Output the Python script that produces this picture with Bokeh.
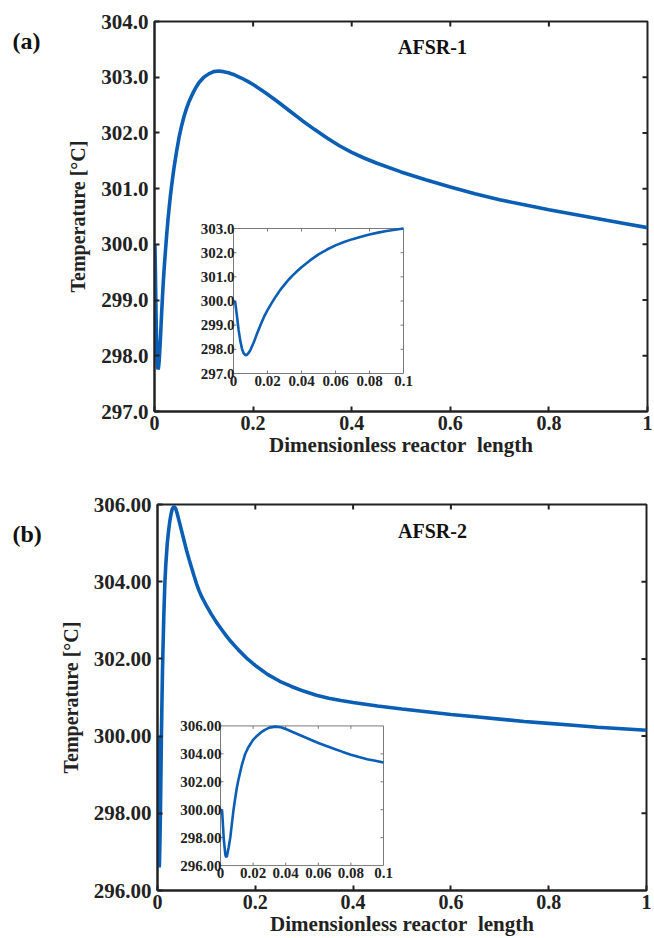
from bokeh.plotting import figure
from bokeh.models import Range1d, FixedTicker, Label
from bokeh.layouts import column, row
from bokeh.embed import file_html
from bokeh.resources import INLINE
from bokeh.core.properties import value

# ---------------- data ----------------
x_ticks = [0, 0.2, 0.4, 0.6, 0.8, 1.0]
x_tick_labels = ["0", "0.2", "0.4", "0.6", "0.8", "1"]
inset_x_ticks = [0, 0.02, 0.04, 0.06, 0.08, 0.1]
inset_x_tick_labels = ["0", "0.02", "0.04", "0.06", "0.08", "0.1"]

# panel (a) AFSR-1
xa = [0, 0.001, 0.002, 0.003, 0.004, 0.005, 0.006, 0.007, 0.008, 0.009, 0.010,
      0.012, 0.014, 0.016, 0.018, 0.020, 0.0225, 0.025, 0.0275, 0.030, 0.0325,
      0.035, 0.0375, 0.040, 0.045, 0.050, 0.055, 0.060, 0.065, 0.070, 0.075,
      0.080, 0.085, 0.090, 0.095, 0.100, 0.110, 0.120, 0.130, 0.140, 0.150,
      0.160, 0.175, 0.190, 0.200, 0.225, 0.250, 0.275, 0.300, 0.325, 0.350,
      0.375, 0.400, 0.425, 0.450, 0.500, 0.550, 0.600, 0.650, 0.700, 0.750,
      0.800, 0.850, 0.900, 0.950, 1.000]
ta = [300.0, 299.95, 299.4, 298.8, 298.35, 298.02, 297.83, 297.76, 297.78, 297.86, 297.98,
      298.3, 298.68, 299.03, 299.35, 299.62, 299.92, 300.2, 300.46, 300.68, 300.89,
      301.07, 301.24, 301.4, 301.68, 301.93, 302.13, 302.3, 302.44, 302.56, 302.66,
      302.75, 302.83, 302.9, 302.95, 303.0, 303.06, 303.1, 303.11, 303.1, 303.08,
      303.05, 302.99, 302.92, 302.87, 302.72, 302.56, 302.39, 302.22, 302.06, 301.91,
      301.77, 301.65, 301.55, 301.46, 301.3, 301.16, 301.03, 300.91, 300.8, 300.71,
      300.62, 300.54, 300.46, 300.38, 300.3]
a_y_ticks = [297, 298, 299, 300, 301, 302, 303, 304]
a_y_labels = ["297.0", "298.0", "299.0", "300.0", "301.0", "302.0", "303.0", "304.0"]
a_inset_y_ticks = [297, 298, 299, 300, 301, 302, 303]
a_inset_y_labels = ["297.0", "298.0", "299.0", "300.0", "301.0", "302.0", "303.0"]

# panel (b) AFSR-2
xb = [0, 0.001, 0.002, 0.003, 0.0035, 0.004, 0.005, 0.006, 0.007, 0.008, 0.009,
      0.010, 0.011, 0.012, 0.013, 0.015, 0.017, 0.020, 0.0225, 0.025, 0.0275,
      0.030, 0.0335, 0.037, 0.040, 0.045, 0.050, 0.060, 0.065, 0.070, 0.075,
      0.080, 0.085, 0.090, 0.095, 0.100, 0.110, 0.120, 0.130, 0.140, 0.150,
      0.165, 0.184, 0.200, 0.225, 0.250, 0.275, 0.300, 0.325, 0.350, 0.375,
      0.400, 0.450, 0.500, 0.550, 0.600, 0.650, 0.700, 0.750, 0.800, 0.850,
      0.900, 0.950, 1.000]
tb = [300.0, 299.9, 297.9, 296.75, 296.6, 296.7, 297.3, 298.0, 299.0, 300.0, 300.8,
      301.55, 302.15, 302.65, 303.15, 303.95, 304.45, 305.0, 305.3, 305.55, 305.74,
      305.88, 305.95, 305.9, 305.78, 305.53, 305.28, 304.78, 304.56, 304.35, 304.14,
      303.94, 303.77, 303.62, 303.5, 303.38, 303.16, 302.96, 302.78, 302.61, 302.45,
      302.24, 302.0, 301.83, 301.6, 301.42, 301.28, 301.16, 301.06, 300.98, 300.92,
      300.87, 300.78, 300.7, 300.63, 300.56, 300.5, 300.44, 300.38, 300.33, 300.28,
      300.23, 300.19, 300.15]
b_y_ticks = [296, 298, 300, 302, 304, 306]
b_y_labels = ["296.00", "298.00", "300.00", "302.00", "304.00", "306.00"]
b_inset_y_ticks = [296, 298, 300, 302, 304, 306]
b_inset_y_labels = ["296.00", "298.00", "300.00", "302.00", "304.00", "306.00"]

FONT = "Liberation Serif"
BLUE = "#0a5eb4"
AX = "#222222"
TAG_W = 45
W_TOTAL = 654


def tag_figure(tag, H, pos):
    f = figure(width=TAG_W, height=H, x_range=Range1d(0, TAG_W), y_range=Range1d(H, 0),
               output_backend="svg", toolbar_location=None,
               x_axis_location=None, y_axis_location=None,
               min_border=0, min_border_left=0, min_border_right=0,
               min_border_top=0, min_border_bottom=0)
    f.grid.visible = False
    f.outline_line_color = None
    f.background_fill_color = "white"
    f.border_fill_color = "white"
    f.add_layout(Label(x=pos[0], y=pos[1], text=tag, text_font=FONT, text_font_style="bold",
                       text_font_size="24px", text_color="#111111",
                       text_align="left", text_baseline="middle"))
    return f


def panel(x, t, y_ticks, y_labels, in_y_ticks, in_y_labels, name, g):
    W, H = W_TOTAL - TAG_W, g["H"]
    L, R, T, B = g["frame"]          # absolute page pixels of the frame edges
    L -= TAG_W
    R -= TAG_W
    ylo, yhi = y_ticks[0], y_ticks[-1]
    p = figure(width=W, height=H, x_range=Range1d(0, 1), y_range=Range1d(ylo, yhi),
               output_backend="svg", toolbar_location=None,
               min_border_left=L, min_border_right=W - R,
               min_border_top=T, min_border_bottom=H - B)
    p.grid.visible = False
    p.outline_line_color = AX
    p.outline_line_width = 2
    p.background_fill_color = "white"
    p.border_fill_color = "white"

    for ax in (p.xaxis[0], p.yaxis[0]):
        ax.major_tick_in = 5
        ax.major_tick_out = 0
        ax.minor_tick_line_color = None
        ax.axis_line_width = 2
        ax.axis_line_color = AX
        ax.major_tick_line_width = 2
        ax.major_tick_line_color = AX
        ax.major_label_text_font = FONT
        ax.major_label_text_font_style = "bold"
        ax.major_label_text_color = "#222222"
        ax.axis_label_text_font = FONT
        ax.axis_label_text_font_style = "bold"
        ax.axis_label_text_color = "#222222"
    xa_ = p.xaxis[0]
    xa_.ticker = FixedTicker(ticks=x_ticks)
    xa_.major_label_overrides = {tk: lb for tk, lb in zip(x_ticks, x_tick_labels)}
    xa_.major_label_text_font_size = "20px"
    xa_.major_label_standoff = 4
    xa_.axis_label = "Dimensionless reactor\u2002length"
    xa_.axis_label_text_font_size = "21px"
    xa_.axis_label_standoff = 0
    ya_ = p.yaxis[0]
    ya_.ticker = FixedTicker(ticks=y_ticks)
    ya_.major_label_overrides = {tk: lb for tk, lb in zip(y_ticks, y_labels)}
    ya_.major_label_text_font_size = "21px"
    ya_.major_label_standoff = 6
    ya_.axis_label = "Temperature [°C]"
    ya_.axis_label_text_font_size = "20px"
    ya_.axis_label_standoff = 9

    # ticks on the top and right edges of the frame
    px_x = 1.0 / (R - L)
    px_y = (yhi - ylo) / (B - T)
    top_x = x_ticks[1:-1]
    right_y = y_ticks[1:-1]
    p.segment(x0=top_x, y0=[yhi] * len(top_x), x1=top_x, y1=[yhi - 5 * px_y] * len(top_x),
              line_color=AX, line_width=2)
    p.segment(x0=[1.0] * len(right_y), y0=right_y, x1=[1.0 - 5 * px_x] * len(right_y), y1=right_y,
              line_color=AX, line_width=2)

    # main curve
    p.line(x, t, line_color=BLUE, line_width=3.6)

    # inset mapped into the frame through extra ranges
    ix0, ix1, iy0, iy1 = g["inset"]
    ix0 -= TAG_W
    ix1 -= TAG_W
    ilo, ihi = in_y_ticks[0], in_y_ticks[-1]
    xlo, xhi = inset_x_ticks[0], inset_x_ticks[-1]
    sx = (xhi - xlo) / (ix1 - ix0)
    sy = (ihi - ilo) / (iy1 - iy0)
    p.extra_x_ranges = {"ix": Range1d(xlo - (ix0 - L) * sx, xhi + (R - ix1) * sx)}
    p.extra_y_ranges = {"iy": Range1d(ilo - (B - iy1) * sy, ihi + (iy0 - T) * sy)}
    kw = dict(x_range_name="ix", y_range_name="iy")
    p.quad(left=[xlo], right=[xhi], bottom=[ilo], top=[ihi], fill_color="white",
           line_color="#7a7a7a", line_width=1, **kw)
    tl = 3
    inner_x = inset_x_ticks[1:-1]
    inner_y = in_y_ticks[1:-1]
    x0s = inner_x + inner_x + [xlo] * len(inner_y) + [xhi] * len(inner_y)
    x1s = inner_x + inner_x + [xlo + tl * sx] * len(inner_y) + [xhi - tl * sx] * len(inner_y)
    y0s = [ilo] * len(inner_x) + [ihi] * len(inner_x) + inner_y + inner_y
    y1s = [ilo + tl * sy] * len(inner_x) + [ihi - tl * sy] * len(inner_x) + inner_y + inner_y
    p.segment(x0=x0s, y0=y0s, x1=x1s, y1=y1s, line_color="#7a7a7a", line_width=1, **kw)
    sel = [i for i, v in enumerate(x) if v <= xhi + 1e-12]
    p.line([x[i] for i in sel], [t[i] for i in sel], line_color=BLUE, line_width=2.6, **kw)
    p.text(x=[xlo] * len(in_y_ticks), y=in_y_ticks, text=in_y_labels, x_offset=1,
           text_align="right", text_baseline="middle", text_font=value(FONT),
           text_font_style="bold", text_font_size="15px", text_color="#222222", **kw)
    p.text(x=inset_x_ticks, y=[ilo] * len(inset_x_ticks), text=inset_x_tick_labels, y_offset=2,
           text_align="center", text_baseline="top", text_font=value(FONT),
           text_font_style="bold", text_font_size="15px", text_color="#222222", **kw)

    # series name inside the frame
    nx = (g["name"][0] - TAG_W - L) / (R - L)
    ny = yhi - (g["name"][1] - T) / (B - T) * (yhi - ylo)
    p.add_layout(Label(x=nx, y=ny, text=name, text_font=FONT,
                       text_font_style="bold", text_font_size="20px", text_color="#111111",
                       text_align="center", text_baseline="middle"))
    return p


ga = dict(H=470, frame=(154, 647, 21, 411), inset=(233, 403, 228, 373), name=(432, 46))
gb = dict(H=468, frame=(157, 646, 34, 421), inset=(220, 383, 256, 396), name=(432, 61))

pa = panel(xa, ta, a_y_ticks, a_y_labels, a_inset_y_ticks, a_inset_y_labels, "AFSR-1", ga)
pb = panel(xb, tb, b_y_ticks, b_y_labels, b_inset_y_ticks, b_inset_y_labels, "AFSR-2", gb)
ta_fig = tag_figure("(a)", ga["H"], (12, 24))
tb_fig = tag_figure("(b)", gb["H"], (12, 36))

layout = column(row(ta_fig, pa, spacing=0), row(tb_fig, pb, spacing=0), spacing=0)
open("out.html", "w").write(file_html(layout, INLINE))
